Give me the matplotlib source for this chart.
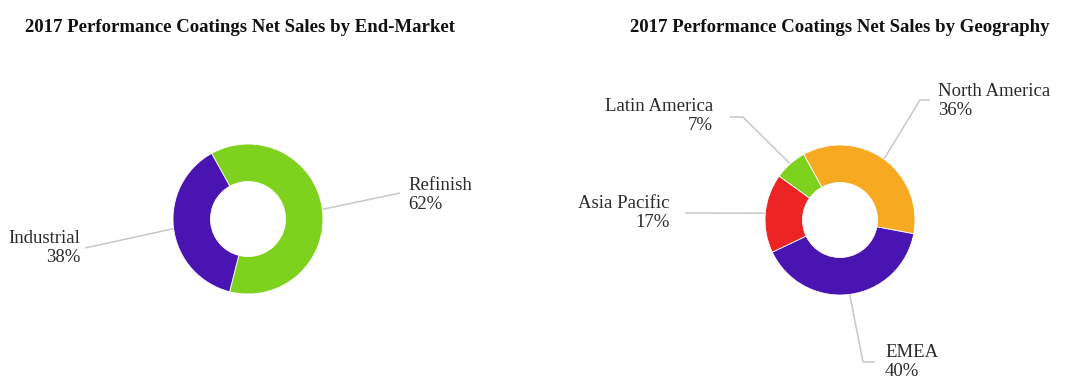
import numpy as np
import matplotlib
matplotlib.use("Agg")
import matplotlib.pyplot as plt

# data
end_market = ["Refinish", "Industrial"]
end_market_pct = [62, 38]
end_market_colors = ["#7ed21e", "#4a14b2"]

geo = ["North America", "EMEA", "Asia Pacific", "Latin America"]
geo_pct = [36, 40, 17, 7]
geo_colors = ["#f8a922", "#4a14b2", "#ec2424", "#7ed21e"]

W, H = 1069, 391
START = 119  # degrees, counter-clockwise from +x, wedges run clockwise
LINE_C = "#c8c8c8"

plt.rcParams["font.family"] = ["Liberation Serif", "DejaVu Serif"]

fig = plt.figure(figsize=(W / 100, H / 100), dpi=100)
ax = fig.add_axes([0, 0, 1, 1])


def py(y):
    # pixel rows (top-down) to data y
    return H - y


def donut(center, radius, values, colors, labels, layout):
    cx, cy = center[0], py(center[1])
    ax.pie(values, colors=colors, startangle=START, counterclock=False,
           center=(cx, cy), radius=radius, frame=True,
           wedgeprops=dict(width=radius * 0.5, edgecolor="white", linewidth=0.6))
    total = float(sum(values))
    ang = START
    for lab, v, (tx, ty, ha, pts) in zip(labels, values, layout):
        span = 360.0 * v / total
        mid = np.deg2rad(ang - span / 2)
        ang -= span
        ax0 = cx + radius * np.cos(mid)
        ay0 = cy + radius * np.sin(mid)
        xs = [ax0] + [p[0] for p in pts]
        ys = [ay0] + [py(p[1]) for p in pts]
        ax.plot(xs, ys, color=LINE_C, lw=1.1, solid_capstyle="butt", zorder=0)
        ax.text(tx, py(ty), f"{lab}\n{v}%", ha=ha, va="center", fontsize=13.5,
                color="#2a2a2a", linespacing=1.15, multialignment=ha)


# left chart: end-market
donut((248, 219), 75, end_market_pct, end_market_colors, end_market, [
    (408, 195, "left", [(400, 193)]),
    (80, 248, "right", [(85, 248)]),
])

# right chart: geography
donut((840, 220), 75, geo_pct, geo_colors, geo, [
    (938, 101, "left", [(920, 100), (930, 100)]),
    (885, 362, "left", [(863, 362), (875, 362)]),
    (670, 213, "right", [(685, 213)]),
    (713, 116, "right", [(743, 117), (730, 117)]),
])

ax.text(240, py(28), "2017 Performance Coatings Net Sales by End-Market",
        ha="center", va="center", fontsize=13.5, fontweight="bold", color="#111111")
ax.text(840, py(28), "2017 Performance Coatings Net Sales by Geography",
        ha="center", va="center", fontsize=13.5, fontweight="bold", color="#111111")

ax.set_xlim(0, W)
ax.set_ylim(0, H)
ax.set_aspect("equal")
ax.axis("off")

fig.savefig("out.png", dpi=100, facecolor="white")
